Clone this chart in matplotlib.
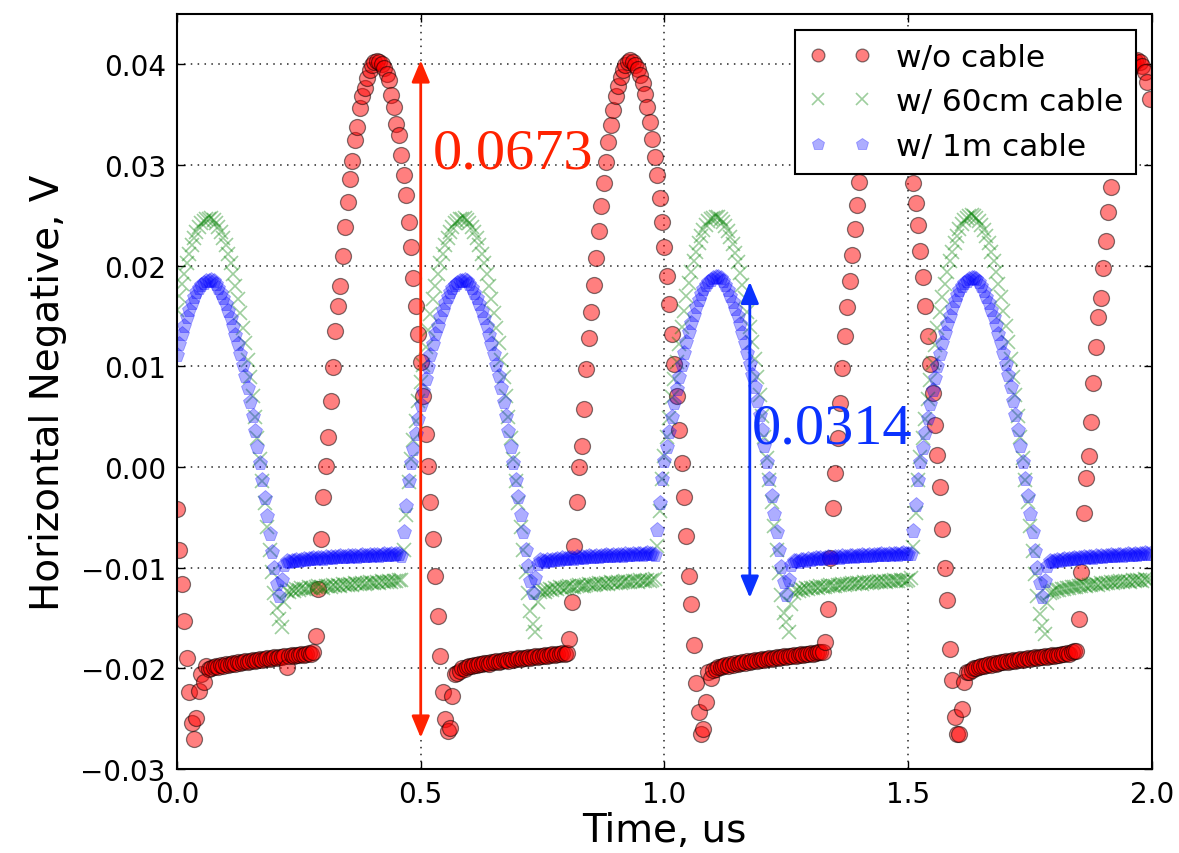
import numpy as np
import matplotlib.pyplot as plt
from matplotlib.ticker import MultipleLocator

# ======================
# SCOPE TRACES (mV), one sample every 5 ns
# ======================

dt_us = 0.005

nocable_mv = [
    -4.2, -8.2, -11.6, -15.3, -19.0, -22.4, -25.4, -27.0, -24.9, -22.3, -20.6,
    -21.4, -19.8, -20.1, -20.0, -19.9, -19.8, -19.9, -19.7, -19.8, -19.6,
    -19.7, -19.6, -19.5, -19.6, -19.4, -19.5, -19.4, -19.3, -19.4, -19.3,
    -19.2, -19.3, -19.2, -19.1, -19.2, -19.1, -19.0, -19.1, -19.0, -18.9,
    -19.0, -18.9, -18.9, -18.8, -19.9, -18.8, -18.7, -18.8, -18.7, -18.7,
    -18.6, -18.7, -18.6, -18.5, -18.6,
    -18.4, -16.8, -12.1, -7.2, -3.0,
    0.1, 3.0, 6.6, 9.9, 13.5, 16.0, 18.0, 21.0, 23.8, 26.3,
    28.6, 30.4, 32.5, 33.8, 35.7, 36.8, 37.6, 38.6, 39.4, 39.9,
    40.2, 40.3, 40.2, 40.0, 39.6, 39.0, 38.4, 36.9, 35.8, 34.1,
    33.0, 31.0, 29.0, 27.0, 24.3, 21.8, 18.8, 16.0, 13.2, 10.4,
    7.0, 3.3,
    0.1, -3.5, -7.2, -10.8, -14.8, -18.8, -22.4, -25.0, -26.2, -25.9, -22.8, -20.6,
    -20.5, -20.3, -20.0, -20.1, -19.9, -19.8, -19.8, -19.7, -19.7, -19.6,
    -19.6, -19.5, -19.5, -19.6, -19.4, -19.4, -19.3, -19.4, -19.3, -19.2,
    -19.2, -19.3, -19.1, -19.2, -19.1, -19.0, -19.1, -19.0, -19.0, -18.9,
    -19.0, -18.9, -18.8, -18.9, -18.8, -18.8, -18.7, -18.8, -18.7, -18.6,
    -18.7, -18.6, -18.6, -18.5, -18.6,
    -18.5, -17.1, -13.4, -7.9, -3.5,
    0.0, 2.1, 5.8, 9.7, 12.8, 15.4, 18.1, 20.8, 23.4, 25.9,
    28.2, 30.3, 32.3, 34.0, 35.5, 36.8, 37.8, 38.7, 39.4, 39.9,
    40.2, 40.4, 40.2, 39.9, 39.5, 38.9, 38.1, 37.0, 35.8, 34.3,
    32.6, 30.8, 29.0, 26.7, 24.3, 21.8, 19.0, 16.2, 13.2, 10.2,
    7.0, 3.7,
    0.4, -3.0, -6.9, -10.8, -13.6, -17.7, -21.5, -24.3, -26.5, -26.0, -23.3, -20.4,
    -21.0, -20.2, -20.1, -19.9, -19.9, -19.8, -19.7, -19.8, -19.6, -19.7,
    -19.5, -19.6, -19.5, -19.4, -19.5, -19.3, -19.4, -19.3, -19.2, -19.3,
    -19.2, -19.1, -19.2, -19.1, -19.0, -19.1, -19.0, -18.9, -19.0, -18.9,
    -18.8, -18.9, -18.8, -18.8, -18.7, -18.8, -18.7, -18.6, -18.7, -18.6,
    -18.6, -18.5, -18.6, -18.5, -18.4, -18.4,
    -18.4, -17.4, -14.1, -9.0, -4.1,
    -0.6, 2.9, 6.4, 9.8, 13.0, 15.9, 18.5, 21.1, 23.6, 26.0,
    28.3, 30.4, 32.3, 34.0, 35.6, 36.9, 37.9, 38.7, 39.4, 39.9,
    40.2, 40.3, 40.1, 39.8, 39.3, 38.7, 37.8, 36.7, 35.4, 33.9,
    32.2, 30.3, 28.2, 26.2, 24.0, 21.5, 18.9, 16.0, 13.0, 10.2,
    7.3, 4.2,
    1.2, -2.0, -6.2, -10.0, -13.2, -18.1, -21.2, -24.8, -26.5, -26.5, -24.0, -21.4,
    -20.4, -20.4, -20.2, -20.0, -20.0, -19.9, -19.8, -19.8, -19.7, -19.6,
    -19.7, -19.5, -19.6, -19.5, -19.4, -19.4, -19.3, -19.4, -19.3, -19.2,
    -19.3, -19.2, -19.1, -19.2, -19.1, -19.0, -19.1, -19.0, -18.9, -19.0,
    -18.9, -18.9, -18.8, -18.9, -18.8, -18.7, -18.8, -18.7, -18.7, -18.6,
    -18.6, -18.5, -18.6, -18.4, -18.3,
    -18.3, -15.1, -10.4, -4.6, -1.1,
    1.1, 4.5, 8.3, 11.9, 14.9, 16.8, 19.8, 22.4, 25.3, 27.8,
    30.0, 32.0, 33.8, 35.4, 36.7, 37.8, 38.7, 39.5, 40.0, 40.3,
    40.4, 40.2, 39.8, 39.2, 38.2, 36.6,
]

cable60_mv = [
    15.6, 17.0, 18.2, 19.2, 20.3, 21.2, 22.0, 22.7, 23.3, 23.8,
    24.2, 24.4, 24.6, 24.6, 24.7, 24.5,
    24.2, 23.8, 23.3, 22.7, 22.0, 21.2, 20.3, 19.2, 18.0, 16.7,
    15.3, 13.8, 12.3, 10.6, 8.9, 7.0, 5.0, 2.9, 0.8, -1.4,
    -3.6, -6.0, -8.2, -10.4, -12.5, -14.0, -15.1, -15.9, -13.4, -12.3,
    -12.4, -12.2, -12.3, -12.1, -12.2, -12.0, -12.1, -12.1, -11.9, -12.0,
    -12.0, -11.9, -11.8, -11.9, -12.0, -11.8, -11.8, -11.9, -11.7, -11.8,
    -11.7, -11.8, -11.6, -11.7, -11.7, -11.6, -11.7, -11.5, -11.6, -11.6,
    -11.5, -11.6, -11.5, -11.4, -11.5, -11.5, -11.4, -11.5, -11.3, -11.4,
    -11.4, -11.3, -11.4, -11.3, -11.3, -11.2,
    -11.2, -8.2, -4.8, -1.5, 0.8, 2.7, 4.6, 6.6, 8.4, 10.1,
    11.9, 13.6, 15.2, 16.7, 18.0, 19.2, 20.3, 21.2, 22.0, 22.7,
    23.3, 23.8, 24.2, 24.4, 24.6, 24.6, 24.7, 24.5,
    24.2, 23.8, 23.3, 22.7, 22.0, 21.2, 20.3, 19.2, 18.0, 16.7,
    15.3, 13.8, 12.3, 10.6, 8.9, 7.0, 5.0, 2.9, 0.8, -1.4,
    -3.6, -6.0, -8.2, -10.4, -12.5, -14.3, -15.6, -16.4, -13.4, -12.4,
    -12.3, -12.4, -12.2, -12.1, -12.2, -12.0, -12.1, -11.9, -12.0, -12.0,
    -11.9, -11.8, -11.9, -11.9, -11.8, -11.7, -11.8, -11.8, -11.7, -11.6,
    -11.7, -11.7, -11.6, -11.5, -11.6, -11.6, -11.5, -11.6, -11.4, -11.5,
    -11.5, -11.4, -11.5, -11.4, -11.3, -11.4, -11.4, -11.3, -11.3, -11.4,
    -11.2, -11.3, -11.3, -11.2, -11.3, -11.2,
    -11.1, -7.9, -4.4, -1.2, 1.1, 3.0, 4.9, 6.9, 8.7, 10.4,
    12.2, 13.9, 15.5, 17.0, 18.3, 19.4, 20.5, 21.4, 22.2, 22.9,
    23.5, 24.0, 24.4, 24.6, 24.7, 24.8, 24.8, 24.6,
    24.3, 23.9, 23.4, 22.8, 22.1, 21.3, 20.4, 19.3, 18.1, 16.8,
    15.4, 13.9, 12.4, 10.7, 8.9, 7.1, 5.1, 3.0, 0.9, -1.3,
    -3.5, -5.9, -8.2, -10.5, -12.7, -14.5, -15.4, -16.4, -13.6, -12.5,
    -12.2, -12.3, -12.1, -12.2, -12.0, -12.1, -12.0, -12.0, -11.9, -12.0,
    -11.8, -11.9, -11.9, -11.8, -11.7, -11.8, -11.8, -11.7, -11.7, -11.6,
    -11.7, -11.6, -11.6, -11.5, -11.6, -11.5, -11.5, -11.6, -11.4, -11.5,
    -11.4, -11.5, -11.4, -11.4, -11.3, -11.4, -11.3, -11.4, -11.3, -11.3,
    -11.2, -11.3, -11.3, -11.2, -11.2, -11.3, -11.2,
    -11.0, -8.0, -4.6, -1.3, 1.0, 2.9, 4.8, 6.8, 8.6, 10.3,
    12.1, 13.8, 15.4, 16.9, 18.2, 19.4, 20.5, 21.4, 22.2, 22.9,
    23.6, 24.1, 24.5, 24.7, 24.9, 25.0, 24.9, 24.7,
    24.4, 24.0, 23.5, 22.9, 22.2, 21.4, 20.5, 19.4, 18.2, 16.9,
    15.5, 14.0, 12.4, 10.7, 8.9, 7.1, 5.1, 3.0, 0.9, -1.3,
    -3.5, -5.9, -8.3, -10.6, -12.8, -14.6, -15.8, -16.6, -13.5, -12.5,
    -12.4, -12.3, -12.2, -12.2, -12.1, -12.1, -12.0, -12.0, -11.9, -11.9,
    -11.9, -11.8, -11.8, -11.7, -11.8, -11.7, -11.7, -11.6, -11.6, -11.7,
    -11.5, -11.6, -11.5, -11.5, -11.4, -11.5, -11.4, -11.4, -11.3, -11.4,
    -11.3, -11.3, -11.4, -11.2, -11.3, -11.2, -11.2, -11.3, -11.1, -11.2,
    -11.2,
]

cable1m_mv = [
    11.1, 12.2, 13.2, 14.0, 14.9, 15.6, 16.3, 16.9, 17.4, 17.8,
    18.1, 18.3, 18.5, 18.5, 18.6, 18.5,
    18.2, 17.8, 17.3, 16.8, 16.2, 15.5, 14.8, 14.0, 13.1, 12.2,
    11.2, 10.1, 9.0, 7.8, 6.5, 5.1, 3.6, 2.0, 0.4, -1.3,
    -3.1, -4.9, -6.7, -8.4, -10.0, -11.6, -12.8, -11.2, -9.7, -9.3,
    -9.4, -9.3, -9.3, -9.2, -9.3, -9.2, -9.1, -9.2, -9.1, -9.1,
    -9.0, -9.1, -9.0, -9.0, -9.1, -8.9, -9.0, -8.9, -9.0, -8.9,
    -8.9, -8.8, -8.9, -8.9, -8.8, -8.9, -8.8, -8.8, -8.9, -8.8,
    -8.7, -8.8, -8.8, -8.7, -8.8, -8.7, -8.7, -8.8, -8.7, -8.6,
    -8.7, -8.7, -8.6, -8.7, -8.6, -8.6,
    -8.8, -6.5, -3.9, -1.4, 0.4, 1.8, 3.3, 4.8, 6.2, 7.5,
    8.7, 9.9, 11.1, 12.2, 13.2, 14.0, 14.9, 15.6, 16.3, 16.9,
    17.4, 17.8, 18.1, 18.3, 18.5, 18.5, 18.6, 18.5,
    18.2, 17.8, 17.3, 16.8, 16.2, 15.5, 14.8, 14.0, 13.1, 12.2,
    11.2, 10.1, 9.0, 7.8, 6.5, 5.1, 3.6, 2.0, 0.4, -1.3,
    -3.0, -4.8, -6.5, -8.2, -9.8, -11.3, -12.5, -11.0, -9.6, -9.2,
    -9.3, -9.4, -9.2, -9.3, -9.2, -9.2, -9.1, -9.2, -9.0, -9.1,
    -9.1, -9.0, -9.0, -9.1, -8.9, -9.0, -8.9, -9.0, -8.9, -8.8,
    -8.9, -8.9, -8.8, -8.9, -8.8, -8.8, -8.7, -8.8, -8.8, -8.7,
    -8.8, -8.7, -8.7, -8.8, -8.6, -8.7, -8.7, -8.6, -8.7, -8.6,
    -8.6, -8.7, -8.6, -8.5, -8.6, -8.6,
    -8.7, -6.3, -3.6, -1.2, 0.6, 2.0, 3.5, 5.0, 6.4, 7.7,
    8.9, 10.1, 11.3, 12.4, 13.4, 14.3, 15.1, 15.9, 16.6, 17.2,
    17.7, 18.1, 18.4, 18.6, 18.8, 18.9, 18.9, 18.8,
    18.5, 18.1, 17.6, 17.0, 16.4, 15.7, 15.0, 14.2, 13.3, 12.3,
    11.3, 10.2, 9.1, 7.9, 6.6, 5.2, 3.7, 2.1, 0.5, -1.2,
    -2.9, -4.7, -6.5, -8.2, -9.9, -11.4, -12.7, -11.2, -9.7, -9.3,
    -9.3, -9.4, -9.2, -9.2, -9.3, -9.1, -9.2, -9.1, -9.0, -9.1,
    -9.0, -9.1, -9.0, -8.9, -9.0, -9.0, -8.9, -8.9, -9.0, -8.8,
    -8.9, -8.9, -8.8, -8.8, -8.9, -8.8, -8.8, -8.7, -8.8, -8.8,
    -8.7, -8.8, -8.7, -8.7, -8.7, -8.6, -8.7, -8.7, -8.6, -8.7,
    -8.6, -8.6, -8.7, -8.6, -8.5, -8.6, -8.6,
    -8.6, -6.4, -3.8, -1.3, 0.5, 1.9, 3.4, 4.9, 6.3, 7.6,
    8.8, 10.0, 11.2, 12.3, 13.3, 14.2, 15.0, 15.8, 16.5, 17.1,
    17.6, 18.0, 18.3, 18.5, 18.7, 18.8, 18.8, 18.7,
    18.4, 18.0, 17.5, 16.9, 16.3, 15.6, 14.9, 14.1, 13.2, 12.3,
    11.3, 10.2, 9.1, 7.9, 6.6, 5.2, 3.7, 2.1, 0.5, -1.2,
    -2.9, -4.7, -6.5, -8.3, -10.0, -11.5, -12.9, -11.3, -9.8, -9.3,
    -9.4, -9.3, -9.2, -9.3, -9.2, -9.1, -9.2, -9.1, -9.1, -9.0,
    -9.1, -9.0, -9.0, -8.9, -9.0, -8.9, -8.9, -9.0, -8.8, -8.9,
    -8.8, -8.9, -8.8, -8.8, -8.7, -8.8, -8.8, -8.7, -8.7, -8.8,
    -8.7, -8.6, -8.7, -8.7, -8.6, -8.7, -8.6, -8.6, -8.5, -8.6,
    -8.6,
]

labels = ['w/o cable', 'w/ 60cm cable', 'w/ 1m cable']

# peak-to-peak swings marked with arrows
pp_nocable = 0.0673
pp_nocable_top = 0.0404
pp_nocable_x = 0.5
pp_1m = 0.0314
pp_1m_top = 0.0184
pp_1m_x = 1.175

red_c = '#ff2200'
blue_c = '#0a32ff'

# ======================
# FIGURE
# ======================

fig = plt.figure(figsize=(11.79, 8.54), dpi=100)
ax = fig.add_axes([0.1501, 0.0984, 0.8270, 0.8841])


def volts(mv):
    return np.array(mv) * 1e-3


def time_axis(mv):
    return np.arange(len(mv)) * dt_us


ax.plot(time_axis(nocable_mv), volts(nocable_mv), 'o', color='red',
        alpha=0.5, ms=11.5, mec='k', mew=0.9, label=labels[0])
ax.plot(time_axis(cable60_mv), volts(cable60_mv), 'x', color='green',
        alpha=0.38, ms=10.5, mew=1.2, label=labels[1])
ax.plot(time_axis(cable1m_mv), volts(cable1m_mv), 'p', color='blue',
        alpha=0.32, ms=11, mec='blue', mew=0.6, label=labels[2])

ax.set_xlim(0, 2.0)
ax.set_ylim(-0.03, 0.045)
ax.xaxis.set_major_locator(MultipleLocator(0.5))
ax.yaxis.set_major_locator(MultipleLocator(0.01))

ax.set_axisbelow(True)
ax.grid(True, color='k', linestyle=(0, (1, 3.5)), linewidth=1.1, alpha=0.85)

ax.tick_params(direction='in', top=True, right=True, length=6, width=1,
               pad=8)
ax.tick_params(axis='x', labelsize=20)
ax.tick_params(axis='y', labelsize=20)
for sp in ax.spines.values():
    sp.set_linewidth(1.5)

ax.set_xlabel('Time, us', fontsize=28, labelpad=2)
ax.set_ylabel('Horizontal Negative, V', fontsize=28, labelpad=10)

# ======================
# PEAK-TO-PEAK ARROWS
# ======================

arrow = '<|-|>,head_length=0.6,head_width=0.25'

ax.annotate('', xy=(pp_nocable_x, pp_nocable_top),
            xytext=(pp_nocable_x, pp_nocable_top - pp_nocable),
            arrowprops=dict(arrowstyle=arrow, color=red_c, lw=2,
                            shrinkA=0, shrinkB=0, mutation_scale=22))
ax.text(0.525, 0.0297, '%.4f' % pp_nocable, color=red_c, fontsize=42,
        family='Liberation Serif', ha='left', va='baseline')

ax.annotate('', xy=(pp_1m_x, pp_1m_top),
            xytext=(pp_1m_x, pp_1m_top - pp_1m),
            arrowprops=dict(arrowstyle=arrow, color=blue_c, lw=2,
                            shrinkA=0, shrinkB=0, mutation_scale=22))
ax.text(1.1795, 0.0024, '%.4f' % pp_1m, color=blue_c, fontsize=42,
        family='Liberation Serif', ha='left', va='baseline')

# ======================
# LEGEND
# ======================

leg = ax.legend(loc='upper right', numpoints=2, fontsize=22.5,
                handlelength=2.0, handletextpad=0.8, borderpad=0.42,
                labelspacing=0.5, borderaxespad=0.5, fancybox=False,
                framealpha=1, edgecolor='k', markerscale=0.8)
leg.get_frame().set_linewidth(1.5)

fig.savefig('out.png', dpi=100)
plt.close(fig)
